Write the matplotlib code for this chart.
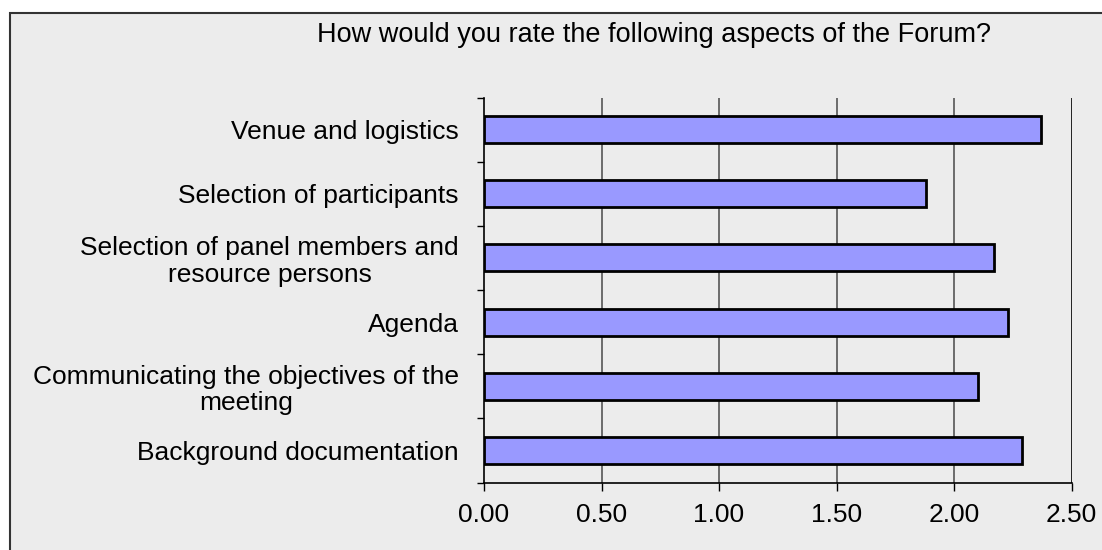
import matplotlib
matplotlib.use("Agg")
import matplotlib.pyplot as plt
from matplotlib.patches import Rectangle
from matplotlib.ticker import FixedLocator

plt.rcParams['font.family'] = ['Liberation Sans', 'DejaVu Sans']

title = "How would you rate the following aspects of the Forum?"
categories = [
    "Venue and logistics",
    "Selection of participants",
    "Selection of panel members and\nresource persons",
    "Agenda",
    "Communicating the objectives of the\nmeeting",
    "Background documentation",
]
values = [2.37, 1.88, 2.17, 2.23, 2.10, 2.29]
xticks = [0.0, 0.5, 1.0, 1.5, 2.0, 2.5]
xticklabels = ["0.00", "0.50", "1.00", "1.50", "2.00", "2.50"]

W, H = 1102, 550
fig = plt.figure(figsize=(W / 100, H / 100), dpi=100)
fig.patch.set_facecolor("white")

# chart area background with border
bg = Rectangle((10 / W, -0.05), 1.1, 1 - 13 / H + 0.05, transform=fig.transFigure,
               facecolor="#ECECEC", edgecolor="#333333", linewidth=1.5, zorder=-10)
fig.patches.append(bg)

ax = fig.add_axes([484 / W, (H - 482.5) / H, (1071.5 - 484) / W, (482.5 - 97.5) / H])
ax.set_facecolor("none")

n = len(categories)
ypos = list(range(n))[::-1]
ax.barh(ypos, values, height=0.42, color="#9999FF", edgecolor="black", linewidth=2, zorder=3)

ax.set_xlim(0, 2.5)
ax.set_ylim(-0.5, n - 0.5)
ax.set_xticks(xticks)
ax.set_xticklabels(xticklabels, fontsize=19)
ax.set_yticks(ypos)
ax.set_yticklabels(categories, fontsize=19, multialignment="center", linespacing=1.12)
ax.yaxis.set_minor_locator(FixedLocator([i - 0.5 for i in range(n + 1)]))
ax.tick_params(axis="y", which="major", length=0, pad=18)
ax.tick_params(axis="y", which="minor", length=5, width=1, color="black", direction="out")
ax.tick_params(axis="x", which="major", length=6, width=1, color="black", pad=9)

for x in xticks[1:-1]:
    ax.axvline(x, color="#555555", linewidth=1.2, zorder=1)
ax.axvline(2.5, color="black", linewidth=1.2, zorder=1)

for s in ["top", "right"]:
    ax.spines[s].set_visible(False)
for s in ["left", "bottom"]:
    ax.spines[s].set_color("black")
    ax.spines[s].set_linewidth(1.2)

fig.text(654 / W, 1 - 35 / H, title, fontsize=19.5, ha="center", va="center")

fig.savefig("out.png", dpi=100, facecolor=fig.get_facecolor())
